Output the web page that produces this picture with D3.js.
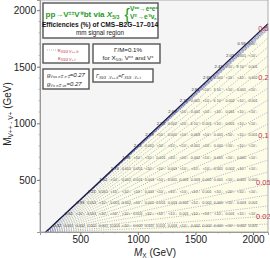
<!DOCTYPE html>
<html><head><meta charset="utf-8">
<script src="https://cdn.jsdelivr.net/npm/d3@7"></script>
<style>body{margin:0;background:#fff}svg{display:block;font-family:"Liberation Sans",Arial,sans-serif}</style>
</head><body>
<svg id="c" width="270" height="258"></svg>
<script>
const xTicks = [500, 1000, 1500, 2000];
const yTicks = [500, 1000, 1500, 2000];
const diagMX = [200, 2130];
const diagMV = [40, 1880];
const effMV = [1700,1600,1500,1400,1300,1200,1100,1000,900,800,700,600,500,400,300,200,100];
const effRows = [
 ["0.59","<10⁻³"],
 ["2.03","0.001","<10⁻³"],
 ["2.41","<10⁻³","8·10⁻⁴","0.001"],
 ["2.65","0.001","<10⁻³","<10⁻³","0.002"],
 ["2.81","<10⁻³","3·10⁻⁴","<10⁻³","0.001","<10⁻³"],
 ["2.72","0.001","<10⁻³","6·10⁻⁴","0.002","<10⁻³","0.001"],
 ["2.68","<10⁻³","0.001","<10⁻³","<10⁻³","0.001","<10⁻³","<10⁻³"],
 ["2.54","0.002","<10⁻³","4·10⁻⁴","0.001","<10⁻³","0.001","<10⁻³","<10⁻³"],
 ["2.39","<10⁻³","0.001","<10⁻³","0.003","<10⁻³","0.001","<10⁻³","<10⁻³","0.001"],
 ["2.21","0.001","<10⁻³","<10⁻³","<10⁻³","0.001","<10⁻³","0.001","<10⁻³","<10⁻³","<10⁻³"],
 ["1.98","<10⁻³","<10⁻³","0.001","<10⁻³","<10⁻³","0.002","<10⁻³","0.001","<10⁻³","0.001","<10⁻³"],
 ["1.74","0.001","0.001","<10⁻³","<10⁻³","0.001","<10⁻³","<10⁻³","<10⁻³","0.001","0.002","<10⁻³","<10⁻³"],
 ["1.52","<10⁻³","0.002","0.001","0.003","<10⁻³","0.001","0.001","0.003","0.002","0.001","<10⁻³","0.001","0.002"],
 ["1.21","0.001","<10⁻³","<10⁻³","<10⁻³","0.001","<10⁻³","<10⁻³","<10⁻³","<10⁻³","0.001","<10⁻³","<10⁻³","<10⁻³","<10⁻³"],
 ["0.93","0.002","<10⁻³","0.001","0.002","<10⁻³","0.001","0.001","0.003","0.002","<10⁻³","0.002","0.001","<10⁻³","0.003","0.001"],
 ["0.61","<10⁻³","0.001","<10⁻³","<10⁻³","<10⁻³","0.001","<10⁻³","<10⁻³","<10⁻³","0.001","<10⁻³","<10⁻³","<10⁻³","0.001","<10⁻³","<10⁻³"],
 ["0.32","0.001","0.002","0.002","0.001","0.003","<10⁻³","0.002","0.001","0.001","0.003","<10⁻³","0.002","0.002","0.001","<10⁻³","0.002","0.001"]
];
// kappa contour lines (M_V reached at the right edge)
const kappaEnds = [1850,1825,1754,1675,1595,1507,1410,1312,1206,1100,994,888,782,676,570,464,367,270,181,110];
const diagBandEnds = [1865,1858,1845,1835];
const kappaLabels = ["0.5","0.2","0.1","0.05","0.02"];
const kappaLabelMV = [1842,1409,897,473,181];

const svg = d3.select("#c");
const x = d3.scaleLinear().domain([150, 2130]).range([40, 268]);
const y = d3.scaleLinear().domain([40, 2090]).range([232, 0]);
const [xmin,xmax] = x.domain(), [ymin,ymax] = y.domain();

// regions
const poly = pts => pts.map(p => [x(p[0]), y(p[1])].join(",")).join(" ");
svg.append("polygon").attr("points", poly([[xmin,ymin],[diagMX[0],diagMV[0]],[diagMX[1],diagMV[1]],[xmax,ymax],[xmin,ymax]])).attr("fill","#f5f5f5");
svg.append("polygon").attr("points", poly([[diagMX[0],diagMV[0]],[xmax,ymin],[diagMX[1],diagMV[1]]])).attr("fill","#fdfde7");

// contour lines
const gL = svg.append("g");
kappaEnds.forEach(v => gL.append("line").attr("x1",x(diagMX[0])).attr("y1",y(diagMV[0])).attr("x2",x(xmax)).attr("y2",y(v))
  .attr("stroke","#8a90c4").attr("stroke-width",0.7).attr("stroke-dasharray","1,1.3"));
diagBandEnds.forEach(v => gL.append("line").attr("x1",x(diagMX[0])).attr("y1",y(diagMV[0])).attr("x2",x(xmax)).attr("y2",y(v))
  .attr("stroke","#5058c0").attr("stroke-width",0.9).attr("stroke-dasharray","1,1"));

// efficiency labels
const gE = svg.append("g").attr("fill","#444").attr("text-anchor","middle");
effRows.forEach((row,i) => row.forEach((t,j) => {
  const mx = effMV[i] + 200 + 100*j;
  gE.append("text").attr("x",x(mx)).attr("y",y(effMV[i])+1.3).text(t)
    .attr("font-size", j===0 ? 4.2 : 3.7).attr("fill", j===0 ? "#333" : "#555");
}));

// diagonal
svg.append("line").attr("x1",x(diagMX[0])).attr("y1",y(diagMV[0])).attr("x2",x(diagMX[1])).attr("y2",y(diagMV[1]))
  .attr("stroke","#1a1a40").attr("stroke-width",1.1);

// red kappa labels
kappaLabels.forEach((t,i) => svg.append("text").attr("x",x(2090)).attr("y",y(kappaLabelMV[i])+2.5)
  .attr("font-size",7.5).attr("fill","#c0304a").attr("text-anchor","middle").text(t));

// frame and axes
svg.append("rect").attr("x",x(xmin)).attr("y",y(ymax)).attr("width",x(xmax)-x(xmin)).attr("height",y(ymin)-y(ymax))
  .attr("fill","none").attr("stroke","#999").attr("stroke-width",0.8);
const gx = svg.append("g").attr("transform",`translate(0,${y(ymin)})`)
  .call(d3.axisBottom(x).tickValues(xTicks).tickSize(3).tickFormat(d3.format("d")));
const gy = svg.append("g").attr("transform",`translate(${x(xmin)},0)`)
  .call(d3.axisLeft(y).tickValues(yTicks).tickSize(3).tickFormat(d3.format("d")));
[gx,gy].forEach(g => { g.select(".domain").attr("stroke","#999");
  g.selectAll(".tick line").attr("stroke","#777");
  g.selectAll("text").attr("font-size",10).attr("fill","#222").attr("font-family","Liberation Sans, Arial"); });
gx.selectAll("text").attr("y",3).attr("dy","0.75em");
gy.selectAll("text").attr("x",-4).attr("dy","0.35em");
// minor ticks
d3.range(200,2101,100).forEach(v => {
  svg.append("line").attr("x1",x(v)).attr("x2",x(v)).attr("y1",y(ymin)).attr("y2",y(ymin)+1.5).attr("stroke","#999").attr("stroke-width",0.6);
  svg.append("line").attr("y1",y(v)).attr("y2",y(v)).attr("x1",x(xmin)).attr("x2",x(xmin)-1.5).attr("stroke","#999").attr("stroke-width",0.6);
});

// rich text helper
function rich(sel, parts){
  parts.forEach(p => {
    const [t,m] = Array.isArray(p) ? p : [p,"n"];
    const ts = sel.append("tspan").text(t);
    if (m==="sub") ts.attr("baseline-shift","-30%").attr("font-size","65%");
    if (m==="sup") ts.attr("baseline-shift","40%").attr("font-size","65%");
  });
  return sel;
}
function box(x0,y0,w,h){
  svg.append("rect").attr("x",x0).attr("y",y0).attr("width",w).attr("height",h)
    .attr("fill","#fff").attr("stroke","#555").attr("stroke-width",1.4);
}

// box 1
box(43,3,115,35);
rich(svg.append("text").attr("x",45.5).attr("y",16.5).attr("font-size",8).attr("font-weight","bold").attr("fill","#1e9a1e"),
  ["pp→V",["±±","sup"],"V",["∓","sup"],"bt via ","X",["5/3","sub"]]).select("tspan:nth-child(6)").attr("font-style","italic");
svg.append("text").attr("x",124.5).attr("y",19.5).attr("font-size",16).attr("fill","#1e9a1e").text("{");
rich(svg.append("text").attr("x",130).attr("y",11).attr("font-size",6.6).attr("font-weight","bold").attr("fill","#1e9a1e"),
  ["V",["±±","sup"],"→e",["±","sup"],"e",["±","sup"]]);
rich(svg.append("text").attr("x",130).attr("y",19).attr("font-size",6.6).attr("font-weight","bold").attr("fill","#1e9a1e"),
  ["V",["∓","sup"],"→e",["∓","sup"],"ν",["e","sub"]]);
svg.append("text").attr("x",100).attr("y",27).attr("font-size",6.6).attr("font-weight","bold").attr("text-anchor","middle").attr("fill","#111")
  .text("Efficiencies (%) of CMS–B2G–17–014");
svg.append("text").attr("x",100).attr("y",35).attr("font-size",6.3).attr("text-anchor","middle").attr("fill","#222").text("mm signal region");

// box 2 legend
box(43,44,46,19);
svg.append("line").attr("x1",47).attr("x2",58).attr("y1",50).attr("y2",50).attr("stroke","#aaa").attr("stroke-width",0.8).attr("stroke-dasharray","1,1");
rich(svg.append("text").attr("x",58).attr("y",52).attr("font-size",5.5).attr("font-style","italic").attr("fill","#c0304a"),
  ["κ",["X5/3 V++ b","sub"]]);
rich(svg.append("text").attr("x",58).attr("y",60).attr("font-size",5.5).attr("font-style","italic").attr("fill","#c0304a"),
  ["κ",["X5/3 V+ t","sub"]]);

// box 3
box(93,44,67,19);
svg.append("text").attr("x",128).attr("y",52).attr("font-size",6.2).attr("text-anchor","middle").attr("fill","#222").text("Γ/M=0.1%");
rich(svg.append("text").attr("x",128).attr("y",60).attr("font-size",6.2).attr("text-anchor","middle").attr("fill","#222"),
  ["for X",["5/3","sub"],", V",["±±","sup"]," and V",["±","sup"]]);

// box 4
box(43,69,46,20);
rich(svg.append("text").attr("x",47).attr("y",77).attr("font-size",6).attr("font-style","italic").attr("fill","#222"),
  ["g",["V±± e∓ e∓","sub"],"=0.27"]);
rich(svg.append("text").attr("x",47).attr("y",85.5).attr("font-size",6).attr("font-style","italic").attr("fill","#222"),
  ["g",["V± e∓ νe","sub"],"=0.27"]);

// box 5
box(93,69,60,13);
rich(svg.append("text").attr("x",96).attr("y",77.5).attr("font-size",5.2).attr("font-style","italic").attr("fill","#222"),
  ["Γ",["X5/3→V++ b","sub"],"=Γ",["X5/3→V+ t","sub"]]);

// axis titles
rich(svg.append("text").attr("x",155).attr("y",256).attr("font-size",10).attr("text-anchor","middle").attr("fill","#222"),
  ["M",["X","sub"]," (GeV)"]).select("tspan").attr("font-style","italic");
rich(svg.append("text").attr("transform","translate(11,114) rotate(-90)").attr("font-size",10).attr("text-anchor","middle").attr("fill","#222"),
  ["M",["V++ - V+","sub"]," (GeV)"]);
</script>
</body></html>
